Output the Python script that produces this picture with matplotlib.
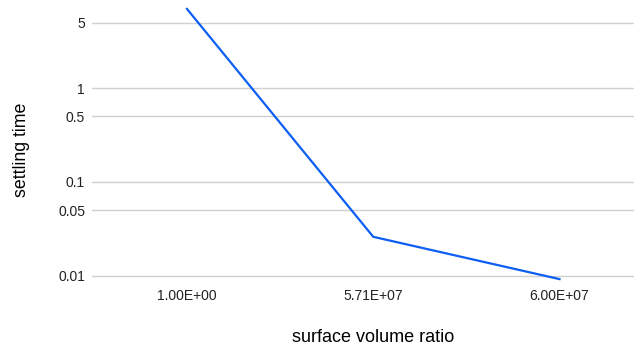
import matplotlib.pyplot as plt
import numpy as np

plt.rcParams['font.family'] = ['Liberation Sans', 'DejaVu Sans']

# data
categories = ["1.00E+00", "5.71E+07", "6.00E+07"]
settling_time = [7.0, 0.026, 0.0092]
y_ticks = [0.01, 0.05, 0.1, 0.5, 1, 5]
y_tick_labels = ["0.01", "0.05", "0.1", "0.5", "1", "5"]

fig = plt.figure(figsize=(6.38, 3.5), dpi=100)
ax = fig.add_axes([92/638, 1-282/350, (634-92)/638, 280/350])

x = np.arange(len(categories))
ax.plot(x, settling_time, color="#0d5ef2", lw=1.6, solid_joinstyle="miter", zorder=3)

ax.set_yscale("log")
ax.set_ylim(0.00857, 8.3)
ax.set_xlim(-0.51, 2.40)
ax.set_yticks(y_ticks)
ax.set_yticklabels(y_tick_labels)
ax.minorticks_off()
ax.set_xticks(x)
ax.set_xticklabels(categories)
ax.tick_params(length=0, labelsize=10, colors="#222222")
ax.tick_params(axis="y", pad=5)
ax.tick_params(axis="x", pad=5)
ax.grid(axis="y", color="#d0d0d0", lw=1)
ax.set_axisbelow(True)
for s in ax.spines.values():
    s.set_visible(False)

fig.text(373/638, 1-338/350, "surface volume ratio", ha="center", va="center", fontsize=13)
fig.text(22/638, 1-150/350, "settling time", ha="center", va="center", rotation=90, fontsize=12.8)

fig.savefig("out.png", dpi=100)
